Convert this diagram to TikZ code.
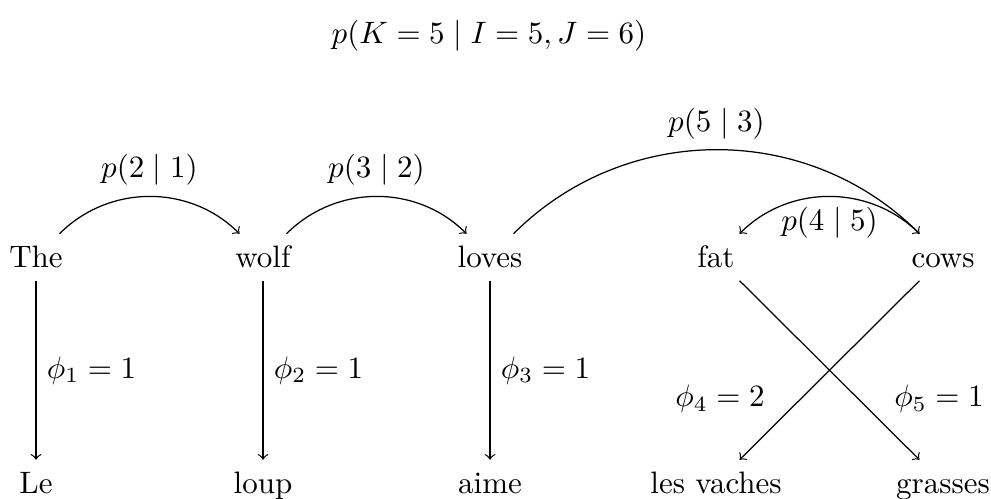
\documentclass[tikz,border=0pt]{standalone}
\begin{document}
\begin{tikzpicture}[x=0.3226pt, y=-0.3226pt, >=to,
  word/.style={anchor=base, text height=7.2pt, text depth=0.9pt}]
\useasboundingbox (0,0) rectangle (991,498);
\node[anchor=base] (title) at (489,43) {$p(K = 5 \mid I = 5, J = 6)$};
% source words
\node[word] (the)   at (36,267)  {The};
\node[word] (wolf)  at (263,267) {wolf};
\node[word] (loves) at (490,267) {loves};
\node[word] (fat)   at (716,267) {fat};
\node[word] (cows)  at (943,267) {cows};
% target words
\node[word] (le)      at (36,493)  {Le};
\node[word] (loup)    at (263,493) {loup};
\node[word] (aime)    at (490,493) {aime};
\node[word] (vaches)  at (716,493) {les vaches};
\node[word] (grasses) at (943,493) {grasses};
% distortion arcs
\draw[->] (the) to[bend left=45] node[above] {$p(2 \mid 1)$} (wolf);
\draw[->] (wolf) to[bend left=45] node[above] {$p(3 \mid 2)$} (loves);
\draw[->] (loves) to[bend left=45] node[above] {$p(5 \mid 3)$} (cows);
\draw[->] (cows) to[bend right=45] node[below] {$p(4 \mid 5)$} (fat);
% alignments
\draw[->] (the) -- node[right] {$\phi_1 = 1$} (le);
\draw[->] (wolf) -- node[right] {$\phi_2 = 1$} (loup);
\draw[->] (loves) -- node[right] {$\phi_3 = 1$} (aime);
\draw[->] (fat) -- node[pos=0.8, above right] {$\phi_5 = 1$} (grasses);
\draw[->] (cows) -- node[pos=0.8, above left] {$\phi_4 = 2$} (vaches);
\end{tikzpicture}
\end{document}
